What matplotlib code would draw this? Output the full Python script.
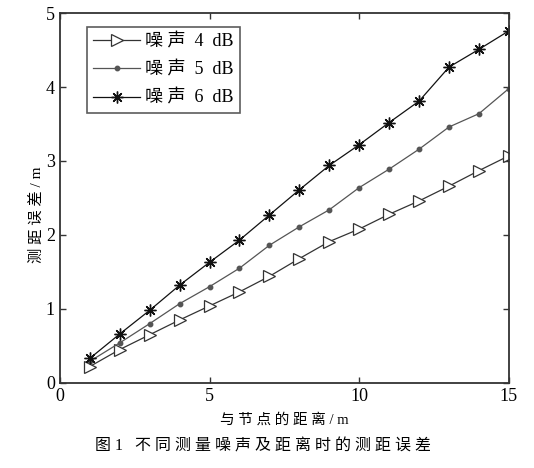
import matplotlib
matplotlib.use("Agg")
import matplotlib.pyplot as plt
import numpy as np

plt.rcParams["font.family"] = ["Liberation Serif", "Noto Sans CJK SC", "DejaVu Sans"]

distance = [1, 2, 3, 4, 5, 6, 7, 8, 9, 10, 11, 12, 13, 14, 15]
err_4db = [0.22, 0.45, 0.65, 0.85, 1.04, 1.23, 1.44, 1.68, 1.91, 2.08, 2.28, 2.46, 2.66, 2.87, 3.07]
err_5db = [0.29, 0.54, 0.80, 1.07, 1.30, 1.55, 1.86, 2.11, 2.34, 2.64, 2.89, 3.16, 3.46, 3.64, 3.98]
err_6db = [0.33, 0.66, 0.98, 1.32, 1.63, 1.93, 2.27, 2.61, 2.94, 3.22, 3.52, 3.81, 4.27, 4.51, 4.76]
series_labels = ["噪 声  4  dB", "噪 声  5  dB", "噪 声  6  dB"]

fig = plt.figure(figsize=(5.34, 4.68), dpi=100)
ax = fig.add_axes([0.112, 0.182, 0.841, 0.790])

ax.plot(distance, err_4db, color="#333333", lw=0.9, marker=">", ms=8,
        mfc="white", mec="#333333", mew=0.9, label=series_labels[0])
ax.plot(distance, err_5db, color="#555555", lw=0.9, marker="o", ms=3.2,
        mfc="#555555", mec="#555555", label=series_labels[1])
ax.plot(distance, err_6db, color="#111111", lw=0.9, marker=(8, 2, 0), ms=8.5,
        mec="#111111", mew=1.0, label=series_labels[2])

ax.set_xlim(0, 15)
ax.set_ylim(0, 5)
ax.set_xticks([0, 5, 10, 15])
ax.set_yticks([0, 1, 2, 3, 4, 5])
ax.tick_params(direction="in", top=True, right=True, length=4, width=1,
               labelsize=13, color="#333333")
for s in ax.spines.values():
    s.set_linewidth(1.3)
    s.set_color("#333333")

ax.set_xlabel("与 节 点 的 距 离 / m", fontsize=10.5, labelpad=6)
ax.set_ylabel("测 距 误 差 / m", fontsize=11, labelpad=2)
ax.yaxis.set_label_coords(-0.035, 0.455)

leg = ax.legend(loc="upper left", bbox_to_anchor=(0.06, 0.962), fontsize=13,
                frameon=True, fancybox=False, edgecolor="#333333",
                handlelength=2.6, borderpad=0.35, labelspacing=0.62,
                handletextpad=0.3, borderaxespad=0)
leg.get_frame().set_linewidth(1.2)

fig.text(0.492, 0.045, "图 1   不 同 测 量 噪 声 及 距 离 时 的 测 距 误 差",
         ha="center", va="center", fontsize=11.5)

fig.savefig("out.png", dpi=100)
